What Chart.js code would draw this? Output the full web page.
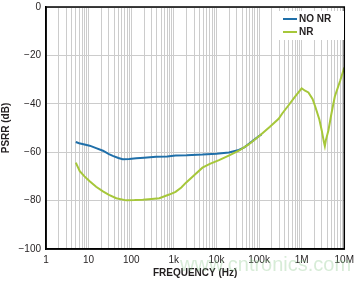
<!DOCTYPE html>
<html>
<head>
<meta charset="utf-8">
<script src="https://cdn.jsdelivr.net/npm/chart.js@4.4.0/dist/chart.umd.min.js"></script>
<style>
    body { margin: 0; background: #ffffff; }
    #caixa { width: 359px; height: 283px; }
</style>
</head>
<body>
<div id="caixa"><canvas id="chartPsrr"></canvas></div>
<script>
// dados - frequencia (Hz) e PSRR (dB)
let frequenciasNoNR = [5, 6, 8, 10.6, 15, 21.7, 30, 37, 50, 63, 90, 131, 200, 383, 700, 1100, 2000, 4700, 10000, 19600, 33600, 45000, 57000, 75000, 98000, 115000];
let psrrNoNR = [-55.8, -56.3, -56.8, -57.3, -58.3, -59.4, -60.8, -61.5, -62.4, -62.9, -62.8, -62.5, -62.3, -61.9, -61.8, -61.4, -61.3, -61.0, -60.6, -60.1, -59.1, -58.0, -56.6, -55.0, -53.4, -52.6];

let frequenciasNR = [5, 6.2, 8, 10.6, 15, 21.7, 30, 44.6, 76, 120, 187, 300, 457, 780, 1100, 1500, 1900, 3000, 4700, 7000, 11500, 20000, 33600, 57000, 98000,
    180000, 288000, 350000, 493000, 700000, 1000000, 1200000, 1440000, 1800000, 2100000, 2600000, 2960000, 3300000, 3500000, 3700000, 4240000, 5000000, 6000000, 8000000, 10000000];
let psrrNR = [-64.3, -67.8, -70, -72, -74.3, -76.2, -77.6, -79, -79.9, -79.8, -79.6, -79.3, -79.0, -77.5, -76.4, -74.6, -72.7, -69.5, -66.4, -64.8, -63.3, -61.3, -59.4, -56.8, -53.5,
    -49.5, -46.2, -44, -40.6, -37, -33.6, -34.6, -35.3, -38.0, -41.3, -46.5, -51, -55.5, -57.5, -55, -51, -44, -37, -30.5, -25];

let rotulosX = { 1: '1', 10: '10', 100: '100', 1000: '1k', 10000: '10k', 100000: '100k', 1000000: '1M', 10000000: '10M' };

function montarPontos(frequencias, valores) {
    let pontos = [];
    for (let i = 0; i < frequencias.length; i++) {
        pontos.push({ x: frequencias[i], y: valores[i] });
    }
    return pontos;
}

// legenda desenhada dentro da area do grafico + moldura
const pluginExtras = {
    id: 'extras',
    afterDraw(chart) {
        const ctx = chart.ctx;
        const area = chart.chartArea;
        ctx.save();

        // moldura
        ctx.strokeStyle = '#000000';
        ctx.lineWidth = 1.5;
        ctx.strokeRect(area.left, area.top, area.right - area.left, area.bottom - area.top);

        // legenda
        ctx.fillStyle = '#ffffff';
        ctx.fillRect(279, 11, 65, 29);
        chart.data.datasets.forEach(function (ds, i) {
            let y = 19 + i * 13;
            ctx.strokeStyle = ds.borderColor;
            ctx.lineWidth = 2;
            ctx.beginPath();
            ctx.moveTo(283, y);
            ctx.lineTo(297, y);
            ctx.stroke();
            ctx.fillStyle = '#231f20';
            ctx.font = 'bold 10px "Liberation Sans", Arial, sans-serif';
            ctx.textBaseline = 'middle';
            ctx.fillText(ds.label, 299, y + 0.5);
        });

        // marca d'agua
        ctx.fillStyle = 'rgba(140, 200, 140, 0.35)';
        ctx.font = '20px "Liberation Sans", Arial, sans-serif';
        ctx.textBaseline = 'middle';
        ctx.fillText('www.cntronics.com', 180, 265);
        ctx.restore();
    }
};

const config = {
    type: 'line',
    data: {
        datasets: [{
            label: 'NO NR',
            data: montarPontos(frequenciasNoNR, psrrNoNR),
            borderColor: '#1f6fa9',
            borderWidth: 2,
            pointRadius: 0,
            fill: false,
            order: 1
        }, {
            label: 'NR',
            data: montarPontos(frequenciasNR, psrrNR),
            borderColor: '#a6c73a',
            borderWidth: 2,
            pointRadius: 0,
            fill: false,
            order: 0
        }]
    },
    options: {
        responsive: true,
        maintainAspectRatio: false,
        animation: false,
        layout: { padding: { top: 7, right: 13, left: 0, bottom: 0 } },
        plugins: {
            legend: { display: false },
            tooltip: { enabled: false }
        },
        scales: {
            x: {
                type: 'logarithmic',
                min: 1,
                max: 10000000,
                afterBuildTicks: function (scale) {
                    let ticks = [];
                    for (let d = 1; d <= 1000000; d *= 10) {
                        for (let m = 1; m < 10; m++) {
                            ticks.push({ value: m * d });
                        }
                    }
                    ticks.push({ value: 10000000 });
                    scale.ticks = ticks;
                },
                afterFit: function (scale) { scale.height = 34; },
                grid: { color: '#cccccc', lineWidth: 1, drawTicks: false },
                border: { color: '#000000', width: 1.5 },
                ticks: {
                    autoSkip: false,
                    maxRotation: 0,
                    padding: 5,
                    color: '#231f20',
                    font: { size: 10, family: '"Liberation Sans", Arial, sans-serif' },
                    callback: function (value) {
                        return rotulosX[value] || '';
                    }
                },
                title: {
                    display: true,
                    text: 'FREQUENCY (Hz)',
                    color: '#231f20',
                    font: { size: 10, weight: 'bold', family: '"Liberation Sans", Arial, sans-serif' },
                    padding: { top: 0, bottom: 4 }
                }
            },
            y: {
                min: -100,
                max: 0,
                afterFit: function (scale) {
                    scale.width = 46;
                    scale.paddingTop = 0;
                    scale.paddingBottom = 0;
                },
                grid: { color: '#cccccc', lineWidth: 1, drawTicks: false },
                border: { color: '#000000', width: 1.5 },
                ticks: {
                    stepSize: 20,
                    padding: 5,
                    color: '#231f20',
                    font: { size: 10, family: '"Liberation Sans", Arial, sans-serif' },
                    callback: function (value) {
                        return value < 0 ? '\u2212' + Math.abs(value) : String(value);
                    }
                },
                title: {
                    display: true,
                    text: 'PSRR (dB)',
                    color: '#231f20',
                    font: { size: 10, weight: 'bold', family: '"Liberation Sans", Arial, sans-serif' },
                    padding: { top: 0, bottom: 0 }
                }
            }
        }
    },
    plugins: [pluginExtras]
};

let chartPsrr = new Chart(document.getElementById('chartPsrr'), config);
</script>
</body>
</html>
